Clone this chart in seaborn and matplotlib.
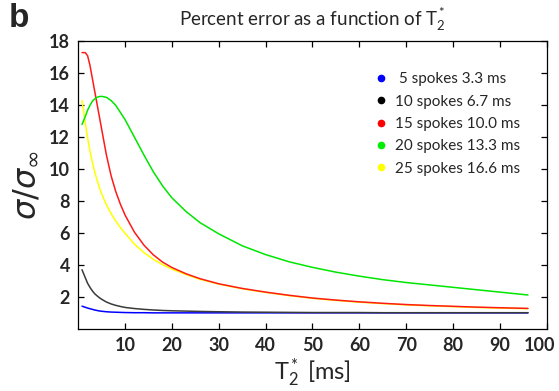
import numpy as np
import pandas as pd
import matplotlib
matplotlib.use("Agg")
import matplotlib.pyplot as plt
import matplotlib.transforms as mtransforms
import seaborn as sns
from matplotlib.lines import Line2D

# ---- data ----
t2_ms = [0.8, 1.5, 2, 2.5, 3, 3.5, 4, 4.5, 5, 6, 7, 8, 9, 10, 12, 14, 16, 18, 20,
         23, 26, 30, 35, 40, 45, 50, 55, 60, 65, 70, 75, 80, 85, 90, 96]

spokes5 = [1.42, 1.35, 1.30, 1.26, 1.22, 1.18, 1.15, 1.12, 1.10, 1.07, 1.05, 1.04, 1.03, 1.02,
           1.01, 1.01, 1.0, 1.0, 1.0, 1.0, 1.0, 1.0, 1.0, 1.0, 1.0, 1.0, 1.0, 1.0, 1.0, 1.0,
           1.0, 1.0, 1.0, 1.0, 1.0]
spokes10 = [3.70, 3.20, 2.85, 2.60, 2.38, 2.20, 2.07, 1.95, 1.85, 1.68, 1.56, 1.47, 1.40, 1.34,
            1.27, 1.22, 1.18, 1.15, 1.13, 1.11, 1.09, 1.07, 1.05, 1.04, 1.03, 1.02, 1.02, 1.02,
            1.01, 1.01, 1.01, 1.01, 1.01, 1.01, 1.01]
spokes15 = [17.3, 17.3, 17.1, 16.5, 15.7, 14.9, 14.1, 13.3, 12.5, 10.9, 9.6, 8.6, 7.8, 7.12,
            6.05, 5.25, 4.64, 4.18, 3.84, 3.45, 3.14, 2.82, 2.53, 2.3, 2.1, 1.93, 1.8, 1.69,
            1.6, 1.52, 1.46, 1.41, 1.36, 1.32, 1.28]
spokes20 = [12.8, 13.3, 13.7, 14.0, 14.25, 14.4, 14.5, 14.55, 14.56, 14.5, 14.3, 14.0, 13.55,
            13.1, 12.0, 10.9, 9.85, 8.95, 8.2, 7.35, 6.65, 5.95, 5.2, 4.65, 4.2, 3.85, 3.55,
            3.3, 3.08, 2.9, 2.75, 2.6, 2.45, 2.3, 2.12]
spokes25 = [14.3, 12.9, 11.95, 11.15, 10.45, 9.85, 9.32, 8.86, 8.45, 7.78, 7.22, 6.75, 6.34,
            5.98, 5.3, 4.78, 4.36, 4.02, 3.74, 3.4, 3.1, 2.8, 2.51, 2.28, 2.08, 1.91, 1.78,
            1.67, 1.58, 1.5, 1.44, 1.39, 1.34, 1.3, 1.26]

labels = [" 5 spokes 3.3 ms", "10 spokes 6.7 ms", "15 spokes 10.0 ms",
          "20 spokes 13.3 ms", "25 spokes 16.6 ms"]
line_colors = ["#0000ff", "#3a3a3a", "#ff1a1a", "#00e600", "#ffff00"]
dot_colors = ["#0000ff", "#000000", "#ff0000", "#00ee00", "#ffff00"]
x_ticks = [10, 20, 30, 40, 50, 60, 70, 80, 90, 100]
y_ticks = [2, 4, 6, 8, 10, 12, 14, 16, 18]

series = [spokes5, spokes10, spokes15, spokes20, spokes25]
df = pd.concat(
    [pd.DataFrame({"T2": t2_ms, "ratio": vals, "series": lab})
     for lab, vals in zip(labels, series)],
    ignore_index=True,
)

# ---- style ----
sns.set_style("ticks")
plt.rcParams["font.family"] = ["Lato", "DejaVu Sans"]
plt.rcParams["mathtext.fontset"] = "custom"
plt.rcParams["mathtext.rm"] = "Lato"
plt.rcParams["mathtext.it"] = "Lato:italic"
plt.rcParams["mathtext.bf"] = "Lato:bold"

fig = plt.figure(figsize=(5.59, 3.91), dpi=100)
ax = fig.add_axes([0.140, 0.159, 0.838, 0.735])

# draw yellow below red, as in the reference
draw_order = [labels[0], labels[1], labels[4], labels[2], labels[3]]
palette = dict(zip(labels, line_colors))
for lab in draw_order:
    sns.lineplot(data=df[df["series"] == lab], x="T2", y="ratio", color=palette[lab],
                 ax=ax, linewidth=1.1, estimator=None, sort=False, legend=False)

ax.set_xlim(0, 100)
ax.set_ylim(0, 18)
ax.set_xticks(x_ticks)
ax.set_yticks(y_ticks)
ax.tick_params(direction="in", top=True, right=True, length=4, width=0.9,
               labelsize=13, pad=6, color="black")
for lbl in ax.get_xticklabels() + ax.get_yticklabels():
    lbl.set_fontweight("bold")
# keep the last x tick label inside the figure, as in the reference
last = ax.get_xticklabels()[-1]
last.set_transform(last.get_transform() +
                   mtransforms.ScaledTranslation(-7 / 100, 0, fig.dpi_scale_trans))
for sp in ax.spines.values():
    sp.set_visible(True)
    sp.set_linewidth(0.9)
    sp.set_color("black")

ax.set_xlabel("T$_2^*$ [ms]", fontsize=17, labelpad=1)
ax.set_ylabel(r"$\sigma/\sigma_{\infty}$", fontsize=23, labelpad=6,
              math_fontfamily="dejavusans")
ax.set_title("Percent error as a function of T$_2^*$", fontsize=13.5, pad=11)

handles = [Line2D([], [], marker="o", linestyle="none", color=c, markersize=4.5)
           for c in dot_colors]
ax.legend(handles, labels, loc="upper left", bbox_to_anchor=(0.634, 0.893),
          frameon=False, fontsize=11, handlelength=0.7, handletextpad=0.6,
          labelspacing=0.55, borderaxespad=0, borderpad=0)

fig.text(0.016, 0.952, "b", fontsize=24, fontweight="bold",
         family=["Liberation Sans", "DejaVu Sans"], va="center")

fig.savefig("out.png", dpi=100)
